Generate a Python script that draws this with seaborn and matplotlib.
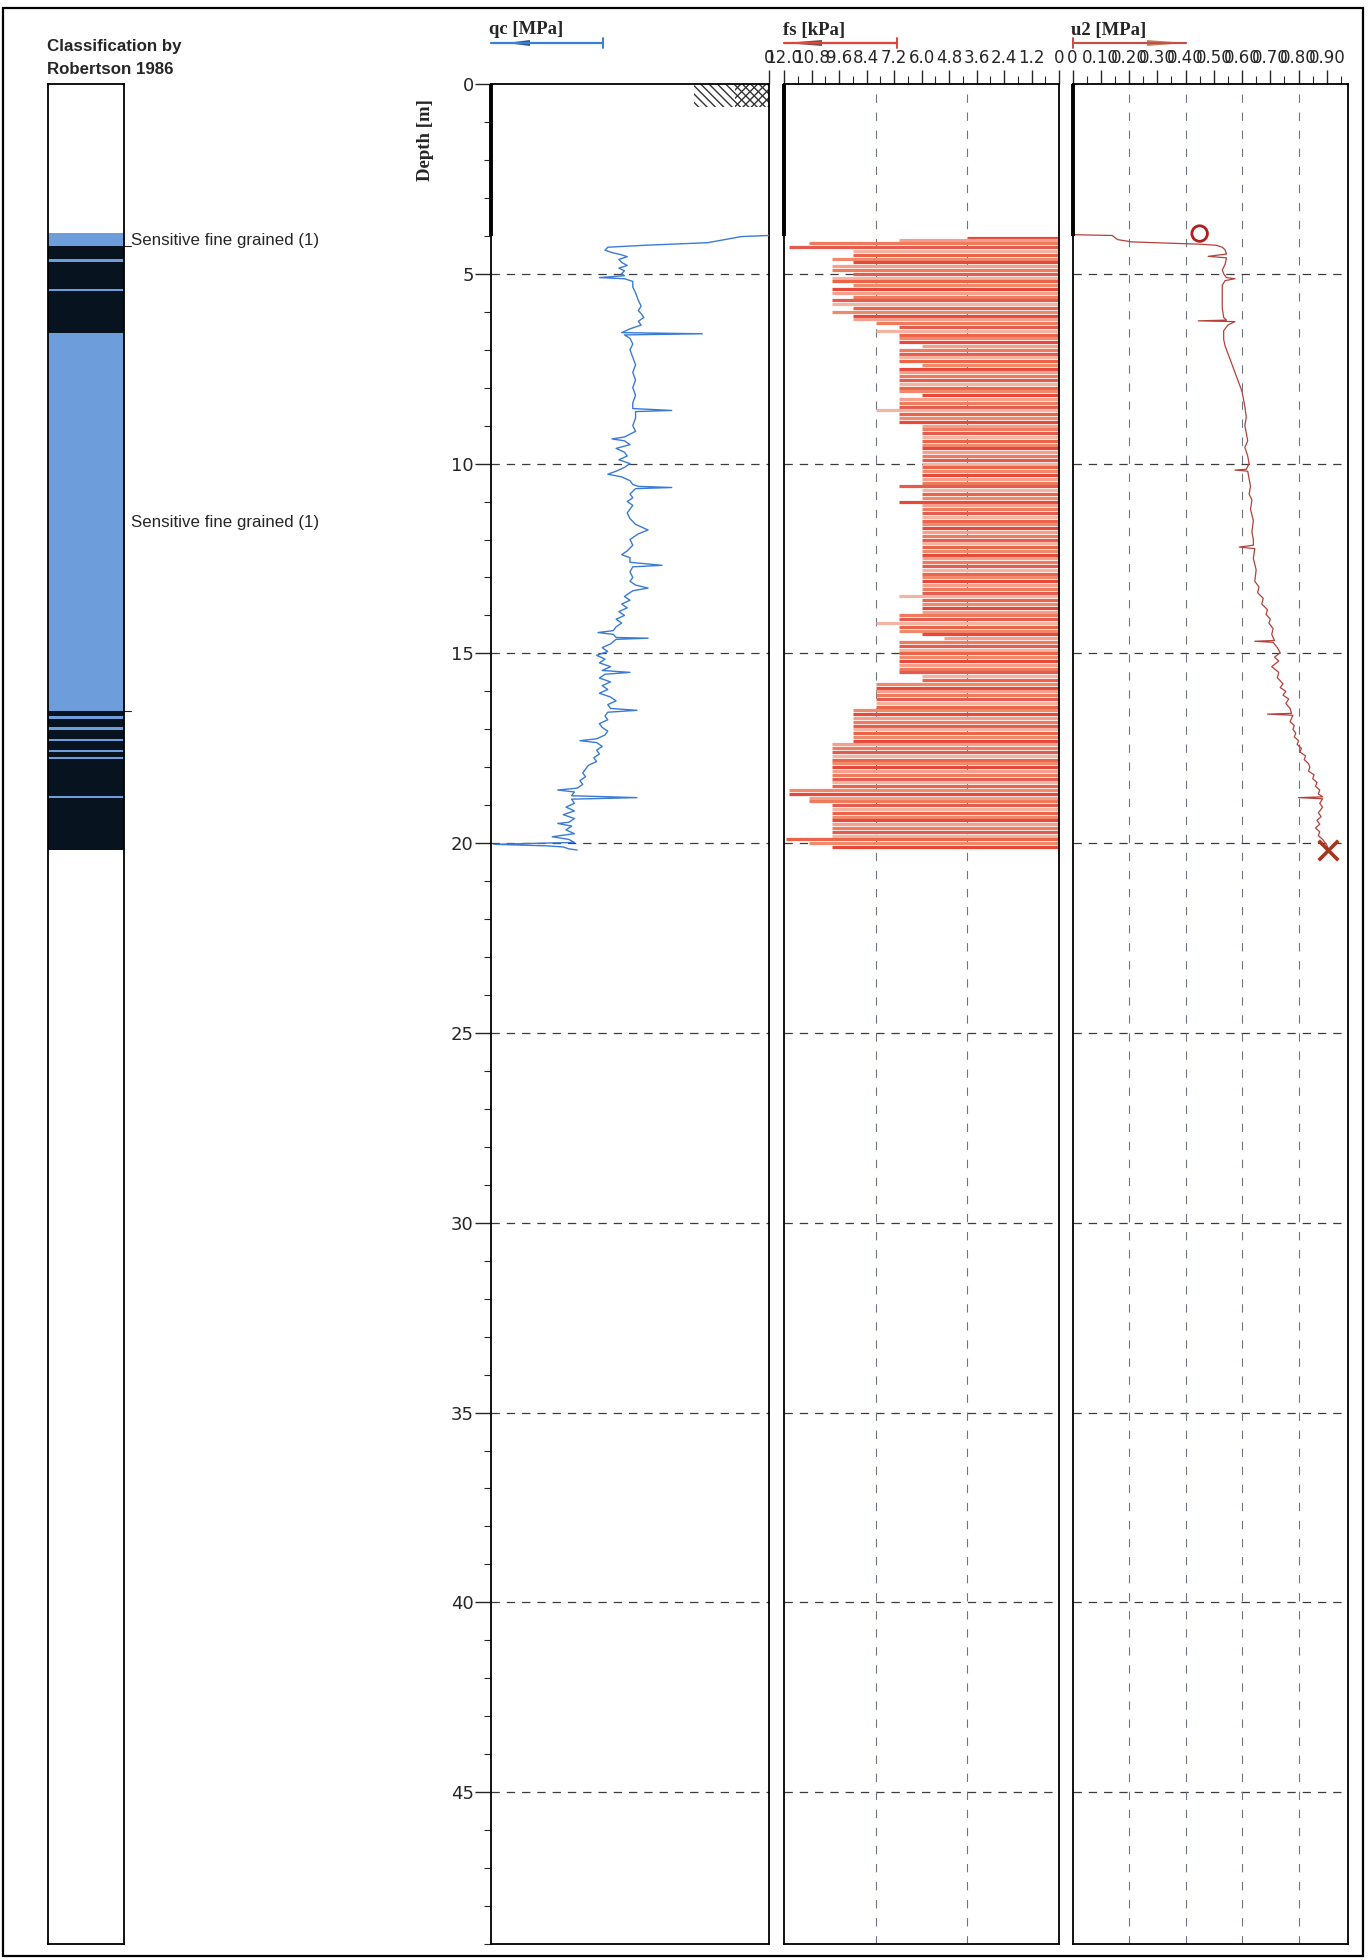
import numpy as np
import pandas as pd
import matplotlib
matplotlib.use("Agg")
import matplotlib.pyplot as plt
import seaborn as sns
from matplotlib.patches import Rectangle, Polygon
from matplotlib.lines import Line2D
from matplotlib.ticker import MultipleLocator, FixedLocator

# ---------------- data ----------------
depth_ticks = [0, 5, 10, 15, 20, 25, 30, 35, 40, 45]
depth_max = 49.0
predrill_depth = 4.0
hatch_depth = 0.6
hatch_qc = 0.27

qc_max = 1.0
qc_ticks = [0]
qc_tick_labels = ["0"]

fs_max = 12.0
fs_tick_values = [12.0, 10.8, 9.6, 8.4, 7.2, 6.0, 4.8, 3.6, 2.4, 1.2, 0.0]
fs_tick_labels = ["12.0", "10.8", "9.6", "8.4", "7.2", "6.0", "4.8", "3.6", "2.4", "1.2", "0"]
fs_grid = [4.0, 8.0]

u2_max = 0.975
u2_tick_values = [0.0, 0.1, 0.2, 0.3, 0.4, 0.5, 0.6, 0.7, 0.8, 0.9]
u2_tick_labels = ["0", "0.10", "0.20", "0.30", "0.40", "0.50", "0.60", "0.70", "0.80", "0.90"]
u2_grid = [0.2, 0.4, 0.6, 0.8]

# soil classification (Robertson 1986)
class_top = [3.92, 4.28, 4.60, 4.68, 5.40, 5.46, 6.56, 16.53, 16.66, 16.72, 16.95, 17.01,
             17.25, 17.31, 17.55, 17.61, 17.73, 17.79, 18.75, 18.81]
class_bottom = [4.28, 4.60, 4.68, 5.40, 5.46, 6.56, 16.53, 16.66, 16.72, 16.95, 17.01, 17.25,
                17.31, 17.55, 17.61, 17.73, 17.79, 18.75, 18.81, 20.17]
class_kind = ["fine", "dark", "fine", "dark", "fine", "dark", "fine", "dark", "fine", "dark",
              "fine", "dark", "fine", "dark", "fine", "dark", "fine", "dark", "fine", "dark"]
class_label_text = ["Sensitive fine grained (1)", "Sensitive fine grained (1)"]
class_label_depth = [4.12, 11.55]
class_leader_depth = [4.28, 16.53]

# cone resistance qc [MPa]
qc_depth = [3.99, 4.02, 4.10, 4.18, 4.25, 4.30, 4.38, 4.45, 4.50, 4.55, 4.62, 4.70, 4.78, 4.85,
            4.92, 5.00, 5.05, 5.10, 5.13, 5.20, 5.35, 5.50, 5.70, 5.85, 5.97, 6.05, 6.15, 6.25,
            6.35, 6.45, 6.55, 6.58, 6.61, 6.70, 6.85, 7.00, 7.20, 7.40, 7.60, 7.80, 8.00, 8.20,
            8.40, 8.55, 8.60, 8.63, 8.80, 9.00, 9.15, 9.30, 9.35, 9.40, 9.50, 9.60, 9.70, 9.80,
            9.90, 10.00, 10.10, 10.20, 10.28, 10.35, 10.45, 10.55, 10.60, 10.63, 10.66, 10.80,
            10.90, 11.00, 11.10, 11.20, 11.30, 11.45, 11.60, 11.75, 11.85, 12.00, 12.15, 12.30,
            12.40, 12.48, 12.60, 12.68, 12.72, 12.85, 13.00, 13.10, 13.20, 13.28, 13.35, 13.50,
            13.60, 13.70, 13.80, 13.90, 14.00, 14.10, 14.20, 14.30, 14.40, 14.45, 14.50, 14.58,
            14.60, 14.63, 14.75, 14.85, 14.95, 15.05, 15.15, 15.25, 15.35, 15.45, 15.50, 15.55,
            15.65, 15.75, 15.85, 15.95, 16.05, 16.15, 16.25, 16.35, 16.45, 16.50, 16.55, 16.65,
            16.75, 16.85, 16.95, 17.05, 17.15, 17.25, 17.30, 17.35, 17.45, 17.55, 17.65, 17.75,
            17.85, 17.95, 18.05, 18.15, 18.25, 18.35, 18.45, 18.55, 18.60, 18.65, 18.75, 18.80,
            18.84, 18.95, 19.05, 19.15, 19.25, 19.35, 19.45, 19.48, 19.55, 19.65, 19.75, 19.83,
            19.90, 19.98, 20.03, 20.07, 20.10, 20.15, 20.18]
qc_mpa = [0.00, 0.10, 0.16, 0.22, 0.45, 0.58, 0.59, 0.56, 0.53, 0.51, 0.54, 0.53, 0.51, 0.54,
          0.52, 0.53, 0.52, 0.61, 0.52, 0.49, 0.49, 0.48, 0.47, 0.46, 0.47, 0.46, 0.45, 0.47,
          0.46, 0.50, 0.53, 0.24, 0.52, 0.50, 0.49, 0.50, 0.49, 0.48, 0.49, 0.48, 0.49, 0.48,
          0.49, 0.49, 0.35, 0.48, 0.48, 0.49, 0.48, 0.52, 0.565, 0.52, 0.50, 0.55, 0.52, 0.51,
          0.54, 0.50, 0.52, 0.55, 0.58, 0.53, 0.50, 0.49, 0.47, 0.35, 0.48, 0.50,
          0.49, 0.51, 0.49, 0.50, 0.51, 0.50, 0.48, 0.435, 0.47, 0.50, 0.49, 0.51,
          0.53, 0.50, 0.50, 0.385, 0.49, 0.50, 0.49, 0.50, 0.48, 0.435, 0.49, 0.52,
          0.50, 0.53, 0.51, 0.54, 0.52, 0.55, 0.53, 0.55, 0.56, 0.615, 0.56, 0.55,
          0.435, 0.55, 0.57, 0.60, 0.58, 0.62, 0.59, 0.61, 0.57, 0.60, 0.50, 0.59,
          0.61, 0.57, 0.60, 0.58, 0.61, 0.57, 0.55, 0.58, 0.57, 0.475, 0.58, 0.59,
          0.58, 0.61, 0.60, 0.58, 0.59, 0.62, 0.68, 0.62, 0.60, 0.62, 0.61, 0.63,
          0.62, 0.65, 0.66, 0.67, 0.66, 0.68, 0.67, 0.69, 0.76, 0.70, 0.71, 0.475,
          0.71, 0.70, 0.73, 0.70, 0.74, 0.70, 0.72, 0.76, 0.71, 0.73, 0.70, 0.78,
          0.72, 0.70, 0.99, 0.80, 0.74, 0.72, 0.69]

# sleeve friction fs [kPa]
fs_depth = [4.05, 4.1, 4.2, 4.3, 4.4, 4.5, 4.6, 4.7, 4.8, 4.9, 5.0, 5.1, 5.2, 5.3, 5.4, 5.5,
            5.6, 5.7, 5.8, 5.9, 6.0, 6.1, 6.2, 6.3, 6.4, 6.5, 6.6, 6.7, 6.8, 6.9, 7.0, 7.1,
            7.2, 7.3, 7.4, 7.5, 7.6, 7.7, 7.8, 7.9, 8.0, 8.1, 8.2, 8.3, 8.4, 8.5, 8.6, 8.7,
            8.8, 8.9, 9.0, 9.1, 9.2, 9.3, 9.4, 9.5, 9.6, 9.7, 9.8, 9.9, 10.0, 10.1, 10.2, 10.3,
            10.4, 10.5, 10.6, 10.7, 10.8, 10.9, 11.0, 11.1, 11.2, 11.3, 11.4, 11.5, 11.6, 11.7,
            11.8, 11.9, 12.0, 12.1, 12.2, 12.3, 12.4, 12.5, 12.6, 12.7, 12.8, 12.9, 13.0, 13.1,
            13.2, 13.3, 13.4, 13.5, 13.6, 13.7, 13.8, 13.9, 14.0, 14.1, 14.2, 14.3, 14.4, 14.5,
            14.6, 14.7, 14.8, 14.9, 15.0, 15.1, 15.2, 15.3, 15.4, 15.5, 15.6, 15.7, 15.8, 15.9,
            16.0, 16.1, 16.2, 16.3, 16.4, 16.5, 16.6, 16.7, 16.8, 16.9, 17.0, 17.1, 17.2, 17.3,
            17.4, 17.5, 17.6, 17.7, 17.8, 17.9, 18.0, 18.1, 18.2, 18.3, 18.4, 18.5, 18.6, 18.7,
            18.8, 18.9, 19.0, 19.1, 19.2, 19.3, 19.4, 19.5, 19.6, 19.7, 19.8, 19.9, 20.0, 20.1]
fs_kpa = [4.0, 7.0, 10.9, 11.8, 9.0, 9.0, 9.9, 9.0, 9.9, 9.9, 9.0, 9.9, 9.9, 9.0, 9.9, 9.9,
          9.0, 9.9, 9.9, 9.0, 9.9, 9.0, 9.0, 8.0, 7.0, 8.0, 7.0, 7.0, 7.0, 6.0, 7.0, 7.0,
          7.0, 7.0, 6.0, 7.0, 7.0, 7.0, 7.0, 7.0, 7.0, 7.0, 6.0, 7.0, 7.0, 7.0, 8.0, 7.0,
          7.0, 7.0, 6.0, 6.0, 6.0, 6.0, 6.0, 6.0, 6.0, 6.0, 6.0, 6.0, 6.0, 6.0, 6.0, 6.0,
          6.0, 6.0, 7.0, 6.0, 6.0, 6.0, 7.0, 6.0, 6.0, 6.0, 6.0, 6.0, 6.0, 6.0,
          6.0, 6.0, 6.0, 6.0, 6.0, 6.0, 6.0, 6.0, 6.0, 6.0, 6.0, 6.0, 6.0, 6.0,
          6.0, 6.0, 6.0, 7.0, 6.0, 6.0, 6.0, 6.0, 7.0, 7.0, 8.0, 7.0, 7.0, 6.0,
          5.0, 7.0, 7.0, 7.0, 7.0, 7.0, 7.0, 7.0, 7.0, 7.0, 6.0, 6.0, 8.0, 8.0,
          8.0, 8.0, 8.0, 8.0, 8.0, 9.0, 9.0, 9.0, 9.0, 9.0, 9.0, 9.0, 9.0, 9.0,
          9.9, 9.9, 9.9, 9.9, 9.9, 9.9, 9.9, 9.9, 9.9, 9.9, 9.9, 9.9, 11.8, 11.8,
          10.9, 10.9, 9.9, 9.9, 9.9, 9.9, 9.9, 9.9, 9.9, 9.9, 9.9, 11.9, 10.9, 9.9]

# pore pressure u2 [MPa]
u2_depth = [3.97, 3.99, 4.10, 4.16, 4.22, 4.25, 4.30, 4.37, 4.48, 4.54, 4.58, 4.75, 4.90, 5.00,
            5.10, 5.13, 5.18, 5.30, 5.60, 5.90, 6.15, 6.22, 6.24, 6.26, 6.35, 6.50, 6.73, 6.90,
            7.10, 7.30, 7.50, 7.70, 7.90, 8.10, 8.30, 8.50, 8.78, 9.00, 9.20, 9.40, 9.57, 9.80,
            10.00, 10.15, 10.17, 10.20, 10.40, 10.60, 10.80, 10.96, 11.20, 11.50, 11.80, 12.00,
            12.15, 12.20, 12.24, 12.50, 12.80, 13.10, 13.25, 13.40, 13.55, 13.70, 13.85, 13.97,
            14.10, 14.20, 14.35, 14.50, 14.66, 14.68, 14.71, 14.85, 14.98, 15.10, 15.20, 15.35,
            15.50, 15.64, 15.80, 15.90, 16.00, 16.10, 16.20, 16.32, 16.45, 16.58, 16.60, 16.63,
            16.80, 16.90, 17.00, 17.10, 17.20, 17.30, 17.40, 17.50, 17.60, 17.70, 17.80, 17.90,
            18.00, 18.10, 18.20, 18.30, 18.40, 18.50, 18.60, 18.70, 18.78, 18.80, 18.83, 18.95,
            19.05, 19.20, 19.30, 19.40, 19.50, 19.60, 19.70, 19.80, 19.90, 19.95, 20.05, 20.15]
u2_mpa = [0.00, 0.14, 0.16, 0.21, 0.45, 0.51, 0.53, 0.54, 0.545, 0.48, 0.545, 0.54, 0.53, 0.535,
          0.545, 0.575, 0.54, 0.53, 0.53, 0.53, 0.535, 0.545, 0.445, 0.575, 0.55, 0.535, 0.535, 0.54,
          0.55, 0.56, 0.57, 0.58, 0.59, 0.60, 0.605, 0.61, 0.615, 0.61, 0.615, 0.62, 0.61, 0.62,
          0.625, 0.615, 0.575, 0.62, 0.625, 0.63, 0.625, 0.635, 0.63, 0.64, 0.635, 0.64,
          0.64, 0.59, 0.645, 0.64, 0.65, 0.645, 0.66, 0.655, 0.675, 0.67, 0.69, 0.685,
          0.70, 0.695, 0.71, 0.705, 0.715, 0.645, 0.71, 0.725, 0.735, 0.715, 0.73, 0.705,
          0.73, 0.725, 0.745, 0.735, 0.755, 0.745, 0.765, 0.755, 0.77, 0.775, 0.69, 0.78,
          0.77, 0.785, 0.78, 0.79, 0.785, 0.80, 0.795, 0.81, 0.805, 0.825, 0.82, 0.835,
          0.84, 0.835, 0.855, 0.85, 0.865, 0.86, 0.875, 0.87, 0.885, 0.80, 0.885, 0.875,
          0.885, 0.87, 0.88, 0.865, 0.875, 0.86, 0.875, 0.87, 0.885, 0.89, 0.90, 0.905]
u2_start = (0.45, 3.94)
u2_end = (0.905, 20.18)

# ---------------- style ----------------
sns.set_style("white")
plt.rcParams["font.family"] = ["DejaVu Sans"]
plt.rcParams["lines.scale_dashes"] = False
plt.rcParams["hatch.linewidth"] = 1.0

W, H = 1369, 1960
fig = plt.figure(figsize=(W / 100, H / 100), dpi=100)
fig.patch.set_facecolor("white")


def fxp(px):
    return px / W


def fyp(py):
    return 1 - py / H


TOP, BOT = 84, 1944


def panel(left, right):
    ax = fig.add_axes([fxp(left), fyp(BOT), fxp(right - left), (BOT - TOP) / H])
    ax.set_ylim(depth_max, 0)
    for s in ax.spines.values():
        s.set_color("black")
        s.set_linewidth(1.3)
        s.set_visible(True)
    ax.set_facecolor("white")
    return ax


ax_cls = panel(47.5, 124.5)
ax_qc = panel(491, 769)
ax_fs = panel(784, 1059)
ax_u2 = panel(1072.5, 1348)

grid_kw = dict(color="#3c3c3c", lw=0.9, dashes=(6, 5), zorder=1)
vgrid_kw = dict(color="#6d7580", lw=0.8, dashes=(6, 7), zorder=1)

# ---------- classification column ----------
ax_cls.set_xlim(0, 1)
ax_cls.set_xticks([])
ax_cls.set_yticks([])
kind_colors = {"fine": "#6d9edb", "dark": "#07141f"}
for t, b, k in zip(class_top, class_bottom, class_kind):
    ax_cls.axhspan(t, b, color=kind_colors[k], lw=0)
ytr = ax_cls.get_yaxis_transform()
for txt, d in zip(class_label_text, class_label_depth):
    ax_cls.text(1.085, d, txt, transform=ytr, ha="left", va="center",
                fontsize=12.2, family="Liberation Sans", clip_on=False)
for d in class_leader_depth:
    ax_cls.add_line(Line2D([1.0, 1.08], [d, d], transform=ytr, color="#222",
                           lw=0.8, clip_on=False))

fig.text(fxp(47), fyp(47), "Classification by", ha="left", va="center",
         fontsize=12.2, fontweight="bold", family="Liberation Sans")
fig.text(fxp(47), fyp(70), "Robertson 1986", ha="left", va="center",
         fontsize=12.2, fontweight="bold", family="Liberation Sans")

# ---------- qc ----------
ax_qc.set_xlim(qc_max, 0)
df_qc = pd.DataFrame({"depth": qc_depth, "qc": qc_mpa})
sns.lineplot(data=df_qc, x="qc", y="depth", sort=False, estimator=None, orient="y",
             color="#3a7bd5", lw=1.0, ax=ax_qc, zorder=3)
ax_qc.set_ylim(depth_max, 0)
ax_qc.set_xlim(qc_max, 0)
for d in depth_ticks[1:]:
    ax_qc.axhline(d, **grid_kw)
ax_qc.plot([qc_max, qc_max], [0, predrill_depth], color="black", lw=2.8,
           solid_capstyle="butt", clip_on=False, zorder=4)
ax_qc.add_patch(Rectangle((0, 0), hatch_qc, hatch_depth, fill=False, lw=0,
                          hatch="\\\\\\\\", edgecolor="#333333", zorder=2))
ax_qc.add_patch(Rectangle((0, 0), hatch_qc * 0.45, hatch_depth, fill=False, lw=0,
                          hatch="////", edgecolor="#333333", zorder=2))
ax_qc.xaxis.tick_top()
ax_qc.xaxis.set_major_locator(FixedLocator(qc_ticks))
ax_qc.set_xticklabels(qc_tick_labels)
ax_qc.tick_params(axis="x", which="major", direction="out", length=10, width=1,
                  top=True, bottom=False, labelsize=12, pad=2)
ax_qc.yaxis.set_major_locator(FixedLocator(depth_ticks))
ax_qc.yaxis.set_minor_locator(MultipleLocator(1))
ax_qc.set_yticklabels([str(d) for d in depth_ticks])
ax_qc.tick_params(axis="y", which="major", direction="out", length=11.5, width=1,
                  left=True, right=False, labelsize=13, pad=1)
ax_qc.tick_params(axis="y", which="minor", direction="out", length=5, width=0.8,
                  left=True, right=False)
ax_qc.set_xlabel("")
ax_qc.set_ylabel("")

# ---------- fs ----------
ax_fs.set_xlim(fs_max, 0)
fs_palette = ["#e8483a", "#f4a08c", "#ef7a5c", "#e45c50", "#f3b4a2", "#ec6448", "#f08a6c"]
fs_colors = [fs_palette[i % len(fs_palette)] for i in range(len(fs_depth))]
ax_fs.hlines(fs_depth, 0, fs_kpa, colors=fs_colors, lw=2.3, zorder=2)
for d in depth_ticks[1:]:
    ax_fs.axhline(d, **grid_kw)
for g in fs_grid:
    ax_fs.axvline(g, **vgrid_kw)
ax_fs.plot([fs_max, fs_max], [0, predrill_depth], color="black", lw=2.8,
           solid_capstyle="butt", clip_on=False, zorder=4)
ax_fs.xaxis.tick_top()
ax_fs.xaxis.set_major_locator(FixedLocator(fs_tick_values))
ax_fs.xaxis.set_minor_locator(MultipleLocator(0.6))
ax_fs.set_xticklabels(fs_tick_labels)
ax_fs.tick_params(axis="x", which="major", direction="out", length=10, width=1,
                  top=True, bottom=False, labelsize=12, pad=2)
ax_fs.tick_params(axis="x", which="minor", direction="out", length=5.5, width=0.8,
                  top=True, bottom=False)
ax_fs.set_yticks([])

# ---------- u2 ----------
ax_u2.set_xlim(0, u2_max)
df_u2 = pd.DataFrame({"depth": u2_depth, "u2": u2_mpa})
sns.lineplot(data=df_u2, x="u2", y="depth", sort=False, estimator=None, orient="y",
             color="#b3413a", lw=0.9, ax=ax_u2, zorder=3)
ax_u2.set_ylim(depth_max, 0)
ax_u2.set_xlim(0, u2_max)
for d in depth_ticks[1:]:
    ax_u2.axhline(d, **grid_kw)
for g in u2_grid:
    ax_u2.axvline(g, **vgrid_kw)
ax_u2.plot([0, 0], [0, predrill_depth], color="black", lw=2.8,
           solid_capstyle="butt", clip_on=False, zorder=4)
ax_u2.scatter([u2_start[0]], [u2_start[1]], marker="o", s=125, facecolors="none",
              edgecolors="#b01e1e", linewidths=2.0, zorder=5, clip_on=False)
ax_u2.scatter([u2_end[0]], [u2_end[1]], marker="x", s=200, color="#a8361f",
              linewidths=2.6, zorder=5, clip_on=False)
ax_u2.xaxis.tick_top()
ax_u2.xaxis.set_major_locator(FixedLocator(u2_tick_values))
ax_u2.xaxis.set_minor_locator(MultipleLocator(0.05))
ax_u2.set_xticklabels(u2_tick_labels)
ax_u2.tick_params(axis="x", which="major", direction="out", length=10, width=1,
                  top=True, bottom=False, labelsize=12, pad=2)
ax_u2.tick_params(axis="x", which="minor", direction="out", length=5.5, width=0.8,
                  top=True, bottom=False)
ax_u2.set_yticks([])
ax_u2.set_xlabel("")
ax_u2.set_ylabel("")

# ---------- headers ----------
title_kw = dict(fontsize=13.5, fontweight="bold", family="Liberation Serif",
                ha="left", va="center")
fig.text(fxp(489), fyp(30), "qc [MPa]", **title_kw)
fig.text(fxp(783), fyp(30), "fs [kPa]", **title_kw)
fig.text(fxp(1071), fyp(30), "u2 [MPa]", **title_kw)
fig.text(fxp(425), fyp(140), "Depth [m]", fontsize=13.5, fontweight="bold",
         family="Liberation Serif", rotation=90, ha="center", va="center")


def fline(x0, x1, y0, y1, color, lw):
    fig.add_artist(Line2D([fxp(x0), fxp(x1)], [fyp(y0), fyp(y1)], color=color, lw=lw,
                          transform=fig.transFigure))


def fpoly(pts, color):
    fig.add_artist(Polygon([(fxp(x), fyp(y)) for x, y in pts], closed=True, color=color,
                           lw=0, transform=fig.transFigure))


# qc arrow (pointing left)
fline(491, 603, 43, 43, "#3a7fd0", 1.6)
fline(603, 603, 38, 48, "#3a7fd0", 1.4)
fpoly([(506, 43), (530, 40), (530, 46)], "#2a5a9a")
# fs arrow (pointing left)
fline(784, 897, 43, 43, "#e0453c", 1.6)
fline(897, 897, 38, 48, "#e0453c", 1.4)
fpoly([(784, 43), (822, 40), (822, 46)], "#7d4f4a")
# u2 arrow (pointing right)
fline(1073, 1186, 43, 43, "#c0504a", 1.6)
fline(1073, 1073, 38, 48, "#c0504a", 1.4)
fpoly([(1147, 40), (1147, 46), (1186, 43)], "#c98456")

# outer frame
fig.add_artist(Rectangle((fxp(3), fyp(1956)), fxp(1360), (1956 - 8) / H, fill=False,
                         lw=1.6, edgecolor="black", transform=fig.transFigure))

fig.savefig("out.png", dpi=100, facecolor="white")
